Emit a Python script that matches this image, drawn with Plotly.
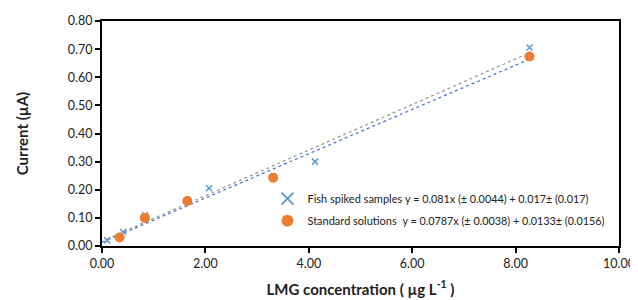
import plotly.graph_objects as go

# Data
fish_x = [0.10, 0.41, 0.83, 2.07, 4.12, 8.27]
fish_y = [0.020, 0.050, 0.110, 0.205, 0.300, 0.706]
std_x = [0.34, 0.83, 1.65, 3.31, 8.27]
std_y = [0.030, 0.100, 0.160, 0.243, 0.674]

fish_slope, fish_icpt = 0.081, 0.017
std_slope, std_icpt = 0.0787, 0.0133

fish_label = "Fish spiked samples <span style='font-size:10.8px'>y = 0.081x (± 0.0044) + 0.017± (0.017)</span>"
std_label = "Standard solutions  <span style='font-size:10.8px'>y = 0.0787x (± 0.0038) + 0.0133± (0.0156)</span>"

x_ticks = [0, 2, 4, 6, 8, 10]
y_ticks = [0, 0.1, 0.2, 0.3, 0.4, 0.5, 0.6, 0.7, 0.8]

FONT = "Lato, 'Open Sans', sans-serif"

fig = go.Figure()

# trendlines
fx = [min(fish_x), max(fish_x)]
fig.add_trace(go.Scatter(x=fx, y=[fish_slope * v + fish_icpt for v in fx], mode="lines",
                         line=dict(color="#9A9A9A", width=1.3, dash="dot"),
                         showlegend=False, hoverinfo="skip"))
sx = [0.0, max(std_x)]
fig.add_trace(go.Scatter(x=sx, y=[std_slope * v + std_icpt for v in sx], mode="lines",
                         line=dict(color="#4472C4", width=1.2, dash="dot"),
                         showlegend=False, hoverinfo="skip"))

fig.add_trace(go.Scatter(x=fish_x, y=fish_y, mode="markers", name=fish_label, legendgroup="a",
                         marker=dict(symbol="x-thin-open", size=6, color="#5B9BD5",
                                     line=dict(color="#5B9BD5", width=1.5))))
fig.add_trace(go.Scatter(x=std_x, y=std_y, mode="markers", name=std_label, legendgroup="b",
                         marker=dict(symbol="circle", size=10, color="#ED7D31")))

fig.update_layout(
    width=630, height=292,
    margin=dict(l=94, r=19, t=13, b=54, autoexpand=False),
    paper_bgcolor="white", plot_bgcolor="white",
    font=dict(family=FONT, color="#222222", size=12.5),
    legend=dict(x=0.32, y=0.275, xanchor="left", yanchor="top",
                bgcolor="rgba(0,0,0,0)", font=dict(size=11, color="#222222"),
                itemwidth=30, traceorder="grouped", tracegroupgap=3, itemsizing="constant"),
    xaxis=dict(range=[0, 10], tickvals=x_ticks, ticktext=[f"{v:.2f}" for v in x_ticks],
               showline=True, linecolor="black", linewidth=2, mirror=True,
               ticks="outside", ticklen=5, tickcolor="black", tickwidth=1.5,
               showgrid=False, zeroline=False, automargin=False, ticklabeloverflow="allow",
               title=dict(text="<b>LMG concentration ( µg L<sup>-1</sup> )</b>", font=dict(size=15), standoff=14)),
    yaxis=dict(range=[0, 0.8], tickvals=y_ticks, ticktext=[f"{v:.2f}" for v in y_ticks],
               showline=True, linecolor="black", linewidth=2, mirror=True,
               ticks="outside", ticklen=5, tickcolor="black", tickwidth=1.5,
               showgrid=False, zeroline=False, automargin=False, ticklabeloverflow="allow",
               title=dict(text="<b>Current (µA)</b>", font=dict(size=15), standoff=36)),
)

fig.write_html("out.html")
